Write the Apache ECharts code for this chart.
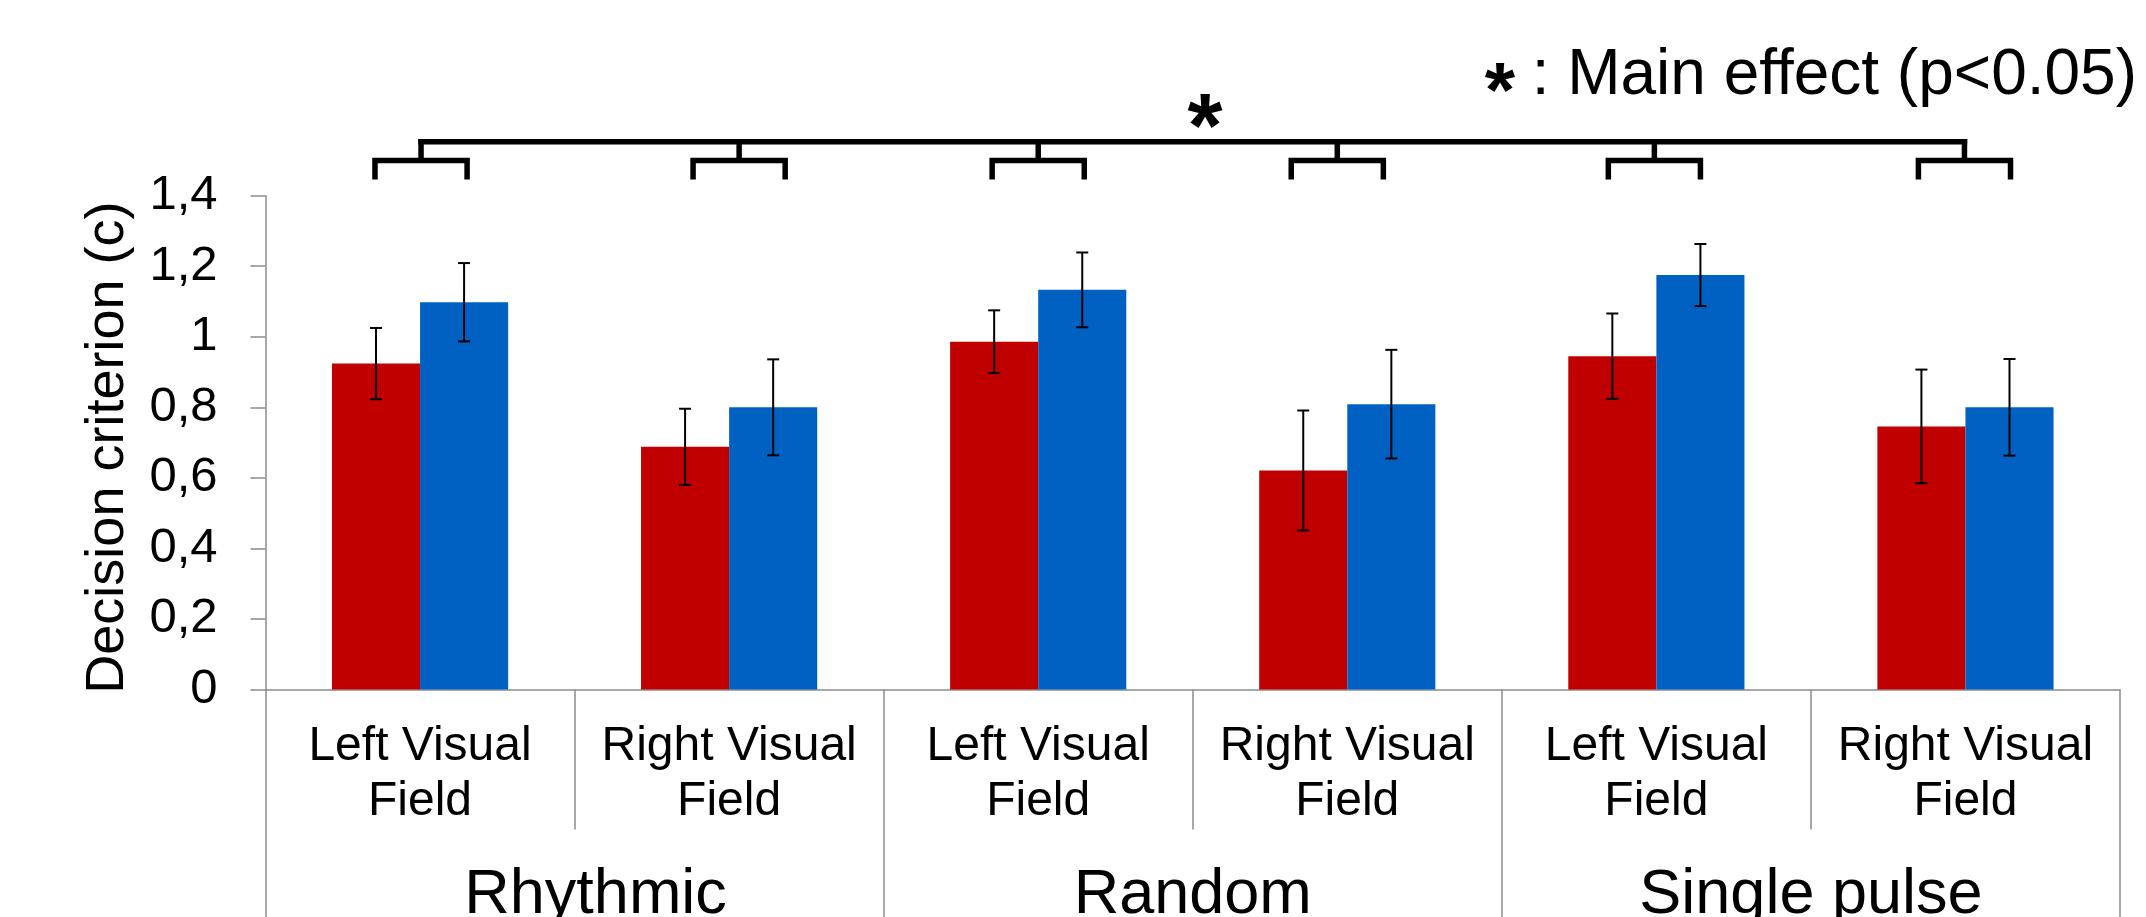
<!DOCTYPE html>
<html>
<head>
<meta charset="utf-8">
<script src="https://cdn.jsdelivr.net/npm/echarts@6/dist/echarts.min.js"></script>
<style>
html,body{margin:0;padding:0;background:#fff;}
#chart{width:2146px;height:917px;}
</style>
</head>
<body>
<div id="chart"></div>
<script>
// ---- data ----
const categories = ['Left Visual\nField', 'Right Visual\nField', 'Left Visual\nField', 'Right Visual\nField', 'Left Visual\nField', 'Right Visual\nField'];
const groups = ['Rhythmic', 'Random', 'Single pulse'];
const redValues = [0.924, 0.688, 0.986, 0.621, 0.945, 0.746];
const redErr = [0.101, 0.108, 0.089, 0.170, 0.121, 0.161];
const blueValues = [1.098, 0.800, 1.133, 0.809, 1.175, 0.800];
const blueErr = [0.111, 0.136, 0.106, 0.154, 0.088, 0.137];
const yTicks = [0, 0.2, 0.4, 0.6, 0.8, 1, 1.2, 1.4];
const yAxisName = 'Decision criterion (c)';
const legendText = ': Main effect (p<0.05)';

// ---- layout / style ----
const FONT = "'Liberation Sans', Arial, sans-serif";
const RED = '#C00000';
const BLUE = '#0061C2';
const GRAY = '#8c8c8c';
const BAR_FRAC = 0.57; // bars occupy this fraction of a category band
const BRACKET_NUDGE = [1, 10, 0, -10, -2, -1]; // hand-drawn bracket offsets (px)

const chart = echarts.init(document.getElementById('chart'), null, {renderer: 'canvas'});

function errorBarItem(side) {
  return function (params, api) {
    const idx = api.value(0);
    const v = api.value(1);
    const e = api.value(2);
    const band = api.size([1, 0])[0];
    const off = side * band * BAR_FRAC / 4;
    const top = api.coord([idx, v + e]);
    const bot = api.coord([idx, v - e]);
    const x = top[0] + off;
    const cap = 6;
    const st = {stroke: '#000', lineWidth: 2};
    return {
      type: 'group',
      children: [
        {type: 'line', shape: {x1: x, y1: top[1], x2: x, y2: bot[1]}, style: st},
        {type: 'line', shape: {x1: x - cap, y1: top[1], x2: x + cap, y2: top[1]}, style: st},
        {type: 'line', shape: {x1: x - cap, y1: bot[1], x2: x + cap, y2: bot[1]}, style: st}
      ]
    };
  };
}

function bracketItem(params, api) {
  const idx = api.value(0);
  const band = api.size([1, 0])[0];
  const legOff = band * 0.149;
  const c = api.coord([idx, 1.5]);
  const cx = c[0] + BRACKET_NUDGE[idx];
  const yLeg = api.coord([idx, 1.446])[1];
  const yH = c[1];
  const yTop = api.coord([idx, 1.553])[1];
  const st = {stroke: '#000', lineWidth: 5.5, fill: null, lineJoin: 'miter'};
  const children = [
    {type: 'polyline', shape: {points: [[cx - legOff, yLeg], [cx - legOff, yH], [cx + legOff, yH], [cx + legOff, yLeg]]}, style: st},
    {type: 'line', shape: {x1: cx, y1: yH, x2: cx, y2: yTop - 2.75}, style: st}
  ];
  if (idx === 0) {
    const lastIdx = categories.length - 1;
    const last = api.coord([lastIdx, 1.553]);
    children.push({type: 'line', shape: {x1: cx - 2.75, y1: yTop, x2: last[0] + BRACKET_NUDGE[lastIdx] + 2.75, y2: yTop}, style: st});
  }
  return {type: 'group', children: children};
}

const option = {
  animation: false,
  backgroundColor: '#fff',
  grid: {left: 265.5, right: 26, top: 195.7, bottom: 227.5, containLabel: false, outerBoundsMode: 'none'},
  xAxis: [
    {
      type: 'category',
      data: categories,
      position: 'bottom',
      axisLine: {show: true, lineStyle: {color: GRAY, width: 1.5}},
      axisTick: {show: true, interval: 0, length: 140, lineStyle: {color: GRAY, width: 1.5}},
      axisLabel: {interval: 0, color: '#000', fontFamily: FONT, fontSize: 48, lineHeight: 55, margin: 30},
      splitLine: {show: false}
    },
    {
      type: 'category',
      data: groups.map((g, i) => i === 0 ? {value: g, textStyle: {padding: [0, 0, 0, 42]}} : g),
      position: 'bottom',
      axisLine: {show: false},
      axisTick: {show: true, interval: 0, length: 228, lineStyle: {color: GRAY, width: 1.5}},
      axisLabel: {interval: 0, color: '#000', fontFamily: FONT, fontSize: 63, lineHeight: 70, margin: 171},
      splitLine: {show: false}
    }
  ],
  yAxis: {
    type: 'value',
    min: yTicks[0],
    max: yTicks[yTicks.length - 1],
    interval: yTicks[1] - yTicks[0],
    name: yAxisName,
    nameLocation: 'middle',
    nameRotate: 90,
    nameGap: 127,
    nameTextStyle: {color: '#000', fontFamily: FONT, fontSize: 54, lineHeight: 60, padding: [0, 10, 0, 0]},
    axisLine: {show: true, lineStyle: {color: GRAY, width: 1.5}},
    axisTick: {show: true, length: 15, lineStyle: {color: GRAY, width: 1.5}},
    axisLabel: {
      color: '#000', fontFamily: FONT, fontSize: 49, margin: 48,
      formatter: v => String(Math.round(v * 10) / 10).replace('.', ',')
    },
    splitLine: {show: false}
  },
  series: [
    {
      type: 'bar', name: 'red', data: redValues, barGap: '0%', barCategoryGap: ((1 - BAR_FRAC) * 100) + '%',
      itemStyle: {color: RED}
    },
    {
      type: 'bar', name: 'blue', data: blueValues, barGap: '0%', barCategoryGap: ((1 - BAR_FRAC) * 100) + '%',
      itemStyle: {color: BLUE}
    },
    {
      type: 'custom', name: 'redErr', renderItem: errorBarItem(-1), clip: false, z: 10,
      data: redValues.map((v, i) => [i, v, redErr[i]]),
      encode: {x: 0, y: 1}
    },
    {
      type: 'custom', name: 'blueErr', renderItem: errorBarItem(1), clip: false, z: 10,
      data: blueValues.map((v, i) => [i, v, blueErr[i]]),
      encode: {x: 0, y: 1}
    },
    {
      type: 'custom', name: 'brackets', renderItem: bracketItem, clip: false, z: 10,
      data: categories.map((c, i) => [i, 1.5]),
      encode: {x: 0, y: 1}
    }
  ],
  graphic: [
    {type: 'text', x: 1205, y: 132, style: {text: '*', font: 'bold 90px ' + FONT, fill: '#000', align: 'center', verticalAlign: 'middle'}},
    {type: 'text', x: 1500, y: 95, style: {text: '*', font: 'bold 78px ' + FONT, fill: '#000', align: 'center', verticalAlign: 'middle'}},
    {type: 'text', x: 2137, y: 76, style: {text: legendText, font: '64px ' + FONT, fill: '#000', align: 'right', verticalAlign: 'middle'}}
  ]
};
chart.setOption(option);
</script>
</body>
</html>
